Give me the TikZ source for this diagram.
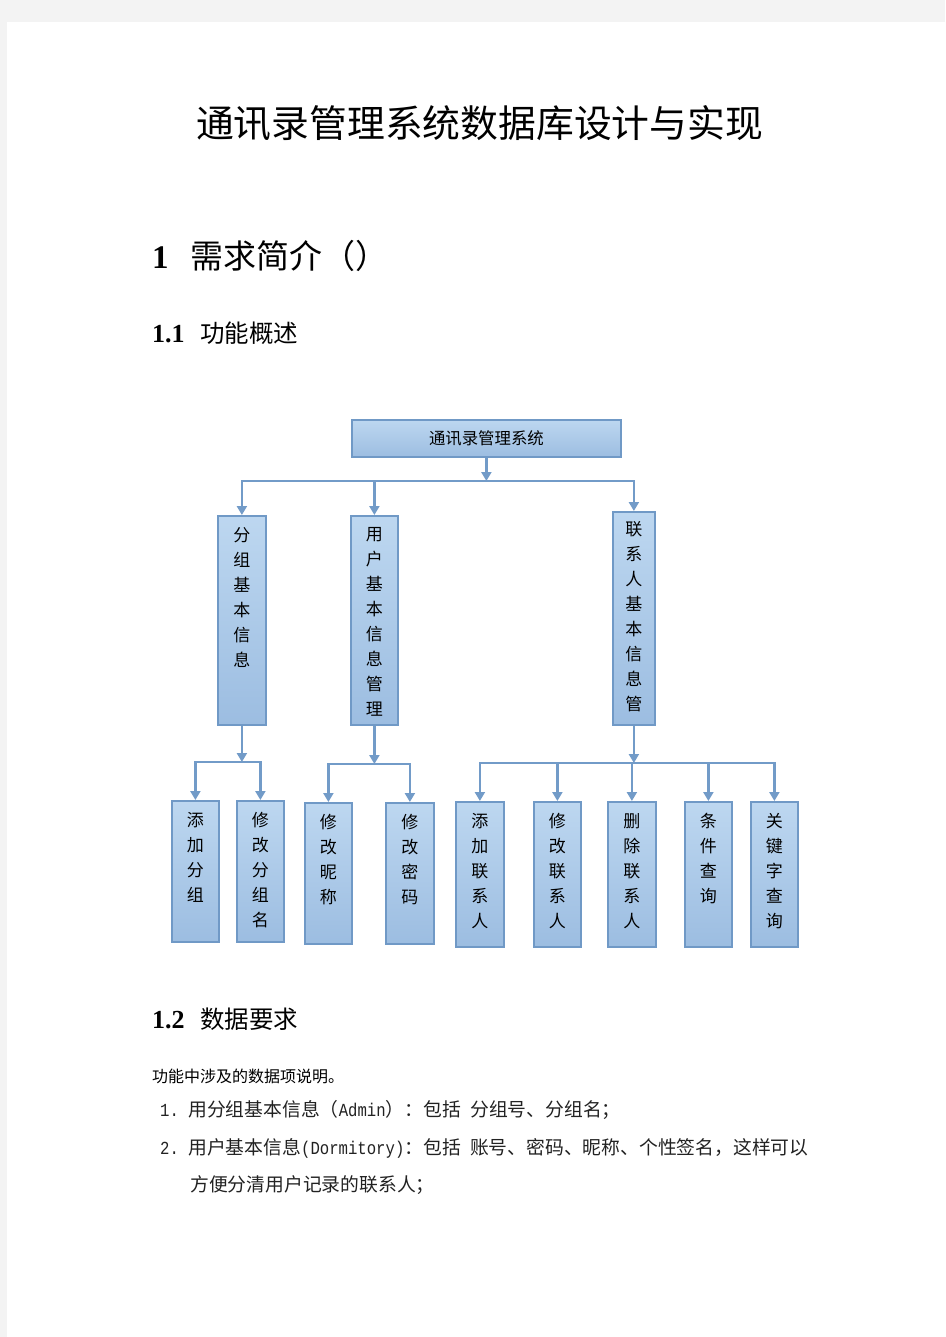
\documentclass[tikz,border=0pt]{standalone}
\usepackage{fontspec}
\setmainfont{Liberation Serif}
\newfontfamily\cjk{Noto Sans CJK SC}
\newfontfamily\monof[FakeStretch=0.85]{Liberation Mono}
\usetikzlibrary{arrows.meta}
\definecolor{pagegray}{HTML}{F3F3F3}
\definecolor{boxtop}{HTML}{BDD7F0}
\definecolor{boxbot}{HTML}{9CBDE1}
\definecolor{boxline}{HTML}{7099C6}
\definecolor{conncol}{HTML}{729BC8}
\definecolor{txt}{HTML}{222222}
\newcommand{\vchars}[3]{\parbox[c][#1][t]{#2}{\centering\cjk\fontsize{17pt}{25pt}\selectfont\vspace*{11.5pt}#3\par}}
\newcommand{\lm}[1]{{\monof\fontsize{18.4pt}{20pt}\selectfont #1}}
\tikzset{
  box/.style={draw=boxline, line width=1.8pt, top color=boxtop, bottom color=boxbot, inner sep=0pt, anchor=north west},
  conn/.style={draw=conncol, line width=2.2pt},
  arr/.style={conn, -{Triangle[width=10pt,length=9pt]}},
  lbl/.style={inner sep=0pt, text=txt},
}
\begin{document}
\begin{tikzpicture}[x=1pt,y=-1pt]
\useasboundingbox (0,0) rectangle (945,1337);
\fill[pagegray] (0,0) rectangle (945,1337);
\fill[white] (7,22) rectangle (945,1337);

% texts
\node[lbl, anchor=base, text=black, font={\cjk\fontsize{37.8pt}{40pt}\selectfont}] (title) at (479.5,137.5) {通讯录管理系统数据库设计与实现};
\node[lbl, anchor=base west, text=black] (h1) at (152,268.5) {\fontsize{33pt}{36pt}\selectfont\bfseries 1\hspace{21.5pt}\mdseries\cjk 需求简介（）};
\node[lbl, anchor=base west, text=black] (h11) at (152,342.3) {\fontsize{26pt}{28pt}\selectfont\bfseries 1.1\hspace{15.5pt}\mdseries\cjk\fontsize{24.5pt}{28pt}\selectfont 功能概述};
\node[lbl, anchor=base west, text=black] (h12) at (152,1028.3) {\fontsize{26pt}{28pt}\selectfont\bfseries 1.2\hspace{15.5pt}\mdseries\cjk\fontsize{24.5pt}{28pt}\selectfont 数据要求};
\node[lbl, anchor=base west, text=black, font={\cjk\fontsize{16pt}{18pt}\selectfont}] (intro) at (152,1082) {功能中涉及的数据项说明。};
\node[lbl, anchor=base west, font={\cjk\fontsize{18.8pt}{20pt}\selectfont}] (l1) at (160,1116) {\lm{1.}\hspace{9.4pt}用分组基本信息（\lm{Admin}）：包括\hspace{9.4pt}分组号、分组名；};
\node[lbl, anchor=base west, font={\cjk\fontsize{18.8pt}{20pt}\selectfont}] (l2) at (160,1154) {\lm{2.}\hspace{9.4pt}用户基本信息\lm{(Dormitory)}：包括\hspace{9.4pt}账号、密码、昵称、个性签名，这样可以};
\node[lbl, anchor=base west, font={\cjk\fontsize{18.8pt}{20pt}\selectfont}] (l3) at (190,1191) {方便分清用户记录的联系人；};

% boxes
\node[box, minimum width=269pt, minimum height=37pt] (root) at (351,419) {\cjk\fontsize{16.4pt}{20pt}\selectfont 通讯录管理系统};
\node[box] (g) at (217,515) {\vchars{209pt}{48pt}{分\\组\\基\\本\\信\\息}};
\node[box] (u) at (350,515) {\vchars{209pt}{47pt}{用\\户\\基\\本\\信\\息\\管\\理}};
\node[box] (c) at (612,511) {\vchars{213pt}{42pt}{\vspace*{-1.5pt}联\\系\\人\\基\\本\\信\\息\\管}};

\node[box] (a1) at (171,800) {\vchars{141pt}{47pt}{添\\加\\分\\组}};
\node[box] (a2) at (236,800) {\vchars{141pt}{47pt}{修\\改\\分\\组\\名}};
\node[box] (b1) at (304,802) {\vchars{141pt}{47pt}{修\\改\\昵\\称}};
\node[box] (b2) at (385,802) {\vchars{141pt}{48pt}{修\\改\\密\\码}};
\node[box] (c1) at (455,801) {\vchars{145pt}{48pt}{添\\加\\联\\系\\人}};
\node[box] (c2) at (533,801) {\vchars{145pt}{47pt}{修\\改\\联\\系\\人}};
\node[box] (c3) at (607,801) {\vchars{145pt}{48pt}{删\\除\\联\\系\\人}};
\node[box] (c4) at (684,801) {\vchars{145pt}{47pt}{条\\件\\查\\询}};
\node[box] (c5) at (750,801) {\vchars{145pt}{47pt}{关\\键\\字\\查\\询}};

% connectors
\coordinate (j0) at (0,481);
\coordinate (j1) at (0,762);
\coordinate (j2) at (0,764);
\coordinate (j3) at (0,763);

\draw[arr] (root.south) -- (root.south |- j0);
\draw[arr] (root.south |- j0) -| (g.north);
\draw[arr] (root.south |- j0) -| (u.north);
\draw[arr] (root.south |- j0) -| (c.north);

\draw[arr] (g.south) -- (g.south |- j1);
\draw[arr] (g.south |- j1) -| (a1.north);
\draw[arr] (g.south |- j1) -| (a2.north);

\draw[arr] (u.south) -- (u.south |- j2);
\draw[arr] (u.south |- j2) -| (b1.north);
\draw[arr] (u.south |- j2) -| (b2.north);

\draw[arr] (c.south) -- (c.south |- j3);
\draw[arr] (c.south |- j3) -| (c1.north);
\draw[arr] (c.south |- j3) -| (c2.north);
\draw[arr] (c.south |- j3) -| (c3.north);
\draw[arr] (c.south |- j3) -| (c4.north);
\draw[arr] (c.south |- j3) -| (c5.north);
\end{tikzpicture}
\end{document}
